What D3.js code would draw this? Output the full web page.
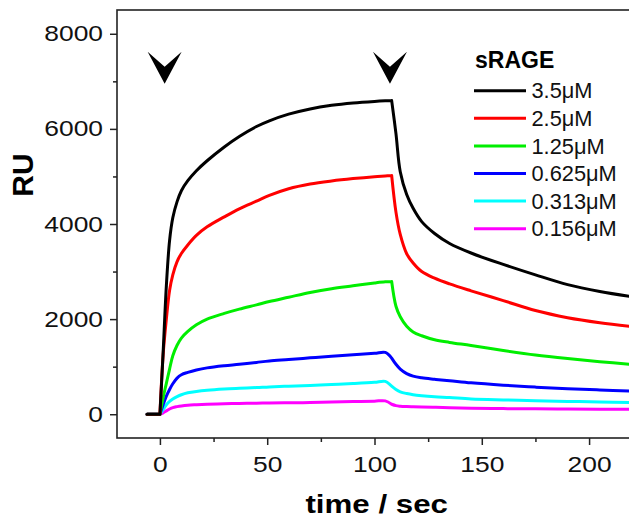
<!DOCTYPE html>
<html>
<head>
<meta charset="utf-8">
<script src="https://cdn.jsdelivr.net/npm/d3@7"></script>
<style>
  body { margin: 0; background: #fff; }
  text { font-family: "Liberation Sans", Arial, sans-serif; }
</style>
</head>
<body>
<div id="chart"></div>
<script>

// time points (sec), shared by all curves
var times = [-6, 0, 1.5, 3, 4.5, 6, 8, 10, 13, 17, 22, 30, 37, 45, 51, 60, 70, 80, 90, 100, 105, 108,
             110, 112, 115, 118, 122, 128, 135, 145, 160, 175, 190, 205, 220]

// injection start / end (association and dissociation phases)
var phaseBreaks = [0, 108]

// RU values, one list per concentration
var ru35 = [0, 0, 1300, 2700, 3650, 4130, 4470, 4700, 4910, 5120, 5330, 5620, 5840, 6050, 6170, 6310, 6420, 6495, 6545, 6578, 6590, 6595,
            5900, 5100, 4620, 4330, 4050, 3800, 3590, 3390, 3150, 2930, 2725, 2580, 2470]
var ru25 = [0, 0, 1250, 2000, 2600, 2930, 3210, 3380, 3560, 3760, 3940, 4150, 4320, 4480, 4600, 4740, 4840, 4905, 4955, 4995, 5010, 5020,
            4250, 3780, 3375, 3180, 3000, 2860, 2740, 2595, 2390, 2180, 2030, 1925, 1845]
var ru125 = [0, 0, 350, 650, 950, 1230, 1450, 1600, 1740, 1880, 2000, 2120, 2210, 2300, 2370, 2460, 2560, 2640, 2700, 2760, 2785, 2790,
             2270, 2050, 1850, 1730, 1650, 1565, 1510, 1445, 1340, 1245, 1170, 1105, 1045]
var ru0625 = [0, 0, 200, 380, 520, 640, 760, 830, 880, 930, 975, 1020, 1050, 1090, 1120, 1150, 1185, 1220, 1250, 1280, 1300, 1180,
              1050, 950, 855, 800, 765, 735, 705, 660, 610, 570, 535, 510, 488]
var ru0313 = [0, 0, 100, 200, 270, 320, 370, 410, 450, 480, 505, 530, 545, 560, 575, 590, 605, 625, 645, 670, 690, 590,
              520, 470, 434, 410, 390, 368, 350, 320, 300, 285, 270, 258, 245]
var ru0156 = [0, 0, 30, 70, 110, 140, 160, 175, 190, 200, 210, 220, 228, 233, 238, 242, 245, 255, 265, 275, 280, 210,
              180, 168, 160, 156, 152, 145, 135, 125, 118, 113, 110, 107, 105]

var labels = ["3.5μM", "2.5μM", "1.25μM", "0.625μM", "0.313μM", "0.156μM"]
var colors = ["#000000", "#ff0000", "#00ee00", "#0000ff", "#00ffff", "#ff00ff"]
var seriesList = [ru35, ru25, ru125, ru0625, ru0313, ru0156]

// injection markers
var arrowTimes = [2.2, 107.2]
var arrowRU = 6950

var xTicks = [0, 50, 100, 150, 200]
var xMinor = [25, 75, 125, 175]
var yTicks = [0, 2000, 4000, 6000, 8000]
var yMinor = [1000, 3000, 5000, 7000]

// DIMENSIONS
var W = 629, H = 519
var margin = {top: 10, right: -3, bottom: 81, left: 117},
    width = W - margin.left - margin.right,
    height = H - margin.top - margin.bottom

var svg = d3.select("#chart").append("svg")
    .attr("width", W)
    .attr("height", H)

var g = svg.append("g")
    .attr("transform", "translate(" + margin.left + "," + margin.top + ")")

var x = d3.scaleLinear().domain([-20, 220]).range([0, width])
var y = d3.scaleLinear().domain([-500, 8500]).range([height, 0])

// stretch text horizontally (reference font looks wider than Arial)
function stretch(sel, k) {
  sel.each(function() {
    var w = this.getComputedTextLength()
    d3.select(this).attr("textLength", w * k).attr("lengthAdjust", "spacingAndGlyphs")
  })
}

// CURVES
var line = d3.line()
    .x(function(d) { return x(d[0]) })
    .y(function(d) { return y(d[1]) })
    .curve(d3.curveCatmullRom.alpha(0.5))

var clip = g.append("clipPath").attr("id", "clip")
clip.append("rect").attr("width", width).attr("height", height)

var curves = g.append("g").attr("clip-path", "url(#clip)")

// split a series at the injection start/end so the corners stay sharp
function phases(vals) {
  var pts = times.map(function(t, j) { return [t, vals[j]] })
  var cuts = [-Infinity].concat(phaseBreaks, [Infinity])
  var out = []
  for (var k = 0; k < cuts.length - 1; k++) {
    out.push(pts.filter(function(p) { return p[0] >= cuts[k] && p[0] <= cuts[k + 1] }))
  }
  return out
}

// draw lowest first so black ends on top
for (var i = seriesList.length - 1; i >= 0; i--) {
  var d = phases(seriesList[i]).map(function(p) { return line(p) }).join("")
  curves.append("path")
      .attr("d", d)
      .attr("fill", "none")
      .attr("stroke", colors[i])
      .attr("stroke-width", 3)
      .attr("stroke-linejoin", "round")
      .attr("stroke-linecap", "round")
}

// AXES
var axisColor = "#222"

var yAxis = g.append("g")
    .call(d3.axisLeft(y).tickValues(yTicks).tickFormat(d3.format("d")).tickSize(7).tickPadding(7).tickSizeOuter(0))
g.append("g")
    .call(d3.axisLeft(y).tickValues(yMinor).tickSize(4).tickFormat("").tickSizeOuter(0))

var xAxis = g.append("g")
    .attr("transform", "translate(0," + height + ")")
    .call(d3.axisBottom(x).tickValues(xTicks).tickFormat(d3.format("d")).tickSize(7).tickPadding(11).tickSizeOuter(0))
g.append("g")
    .attr("transform", "translate(0," + height + ")")
    .call(d3.axisBottom(x).tickValues(xMinor).tickSize(4).tickFormat("").tickSizeOuter(0))

g.selectAll(".domain").remove()
g.selectAll(".tick line").attr("stroke", axisColor).attr("stroke-width", 1.5)
g.selectAll(".tick text")
    .style("font-size", "22px")
    .attr("fill", "#111")
    .call(stretch, 1.2)

// frame
g.append("rect")
    .attr("width", width)
    .attr("height", height)
    .attr("fill", "none")
    .attr("stroke", axisColor)
    .attr("stroke-width", 1.6)

// AXIS TITLES
var xt = svg.append("text")
    .attr("x", 376.7)
    .attr("y", 513)
    .attr("text-anchor", "middle")
    .style("font-size", "26.5px")
    .style("font-weight", "bold")
    .text("time / sec")
xt.call(stretch, 1.18)

svg.append("text")
    .attr("transform", "translate(33,175) rotate(-90)")
    .attr("text-anchor", "middle")
    .style("font-size", "30px")
    .style("font-weight", "bold")
    .text("RU")

// ARROWS
g.selectAll(".arrow")
    .data(arrowTimes)
    .enter()
    .append("path")
    .attr("class", "arrow")
    .attr("transform", function(d) { return "translate(" + x(d) + "," + y(arrowRU) + ")" })
    .attr("d", "M-17,-32 L0,0 L17,-32 L0,-17 Z")
    .attr("fill", "#000")

// LEGEND
svg.append("text")
    .attr("x", 475)
    .attr("y", 68.3)
    .style("font-size", "23px")
    .style("font-weight", "bold")
    .text("sRAGE")

var leg = svg.selectAll(".leg")
    .data(labels)
    .enter()
    .append("g")
    .attr("class", "leg")
    .attr("transform", function(d, i) { return "translate(474," + (90.7 + i * 27.6) + ")" })

leg.append("line")
    .attr("x1", 0).attr("x2", 52)
    .attr("stroke", function(d, i) { return colors[i] })
    .attr("stroke-width", 3)

leg.append("text")
    .attr("x", 57.5)
    .attr("y", 7.7)
    .style("font-size", "21.8px")
    .attr("fill", "#111")
    .text(function(d) { return d })

</script>
</body>
</html>
